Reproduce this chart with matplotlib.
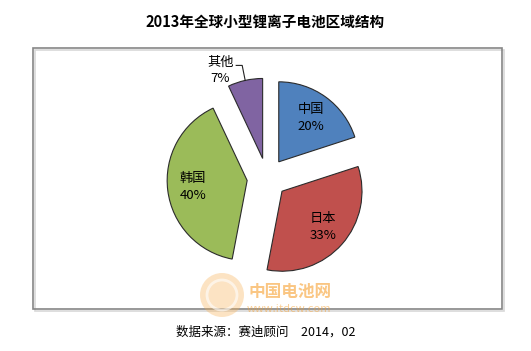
import math
import matplotlib
matplotlib.use("Agg")
import matplotlib.pyplot as plt
from matplotlib.patches import Rectangle, Circle

plt.rcParams['font.family'] = ['Noto Sans CJK SC', 'DejaVu Sans']

# ---- data ----
title = "2013年全球小型锂离子电池区域结构"
categories = ["中国", "日本", "韩国", "其他"]
shares = [20, 33, 40, 7]
colors = ["#4F81BD", "#C0504D", "#9BBB59", "#8064A2"]
footer = "数据来源：赛迪顾问　2014，02"

W, H = 531, 351
fig = plt.figure(figsize=(W / 100, H / 100), dpi=100)
ax = fig.add_axes([0, 0, 1, 1])

radius = 80
wedges, _ = ax.pie(shares, explode=[20] * len(shares), center=(267, 173), radius=radius,
                   startangle=90, counterclock=False, colors=colors,
                   wedgeprops=dict(edgecolor="#2b2b2b", linewidth=0.8))
ax.set_xlim(0, W)
ax.set_ylim(0, H)
ax.set_aspect('auto')
ax.axis('off')

# labels inside wedges
for w, cat, val in zip(wedges, categories, shares):
    tm = math.radians((w.theta1 + w.theta2) / 2)
    cx, cy = w.center
    if val >= 10:
        d = 0.68 * radius
        ax.text(cx + d * math.cos(tm), cy + d * math.sin(tm), f"{cat}\n{val}%",
                ha='center', va='center', fontsize=9.5, linespacing=1.4, color='black')
    else:
        ox, oy = cx + radius * math.cos(tm), cy + radius * math.sin(tm)
        ax.plot([ox, ox - 3, ox - 9], [oy, oy + 15, oy + 15], color='#222222', lw=0.8)
        ax.text(ox - 25, oy + 10, f"{cat}\n{val}%", ha='center', va='center',
                fontsize=9.5, linespacing=1.4, color='black')

# chart frame
ax.add_patch(Rectangle((34.5, 40.5), 469, 261, fill=False, edgecolor='#d8d8d8', lw=1.2, zorder=0))
ax.add_patch(Rectangle((33, 42), 469, 261, fill=False, edgecolor='#868686', lw=1.2, zorder=1))

# title and footer
ax.text(265, 329, title, ha='center', va='center', fontsize=10.5, fontweight='bold')
ax.text(266, 19, footer, ha='center', va='center', fontsize=9)

# watermark
ax.add_patch(Circle((222, 56), 22, facecolor='#F8B155', edgecolor='none', alpha=0.35, zorder=5))
ax.add_patch(Circle((222, 56), 15, facecolor='none', edgecolor='white', lw=2, alpha=0.6, zorder=6))
ax.text(290, 59, "中国电池网", ha='center', va='center', fontsize=12, fontweight='bold',
        color='#F7A030', alpha=0.6, zorder=6)
ax.text(289, 42, "www.itdcw.com", ha='center', va='center', fontsize=8,
        color='#F7A030', alpha=0.5, zorder=6)

fig.savefig("out.png", dpi=100, facecolor='white')
